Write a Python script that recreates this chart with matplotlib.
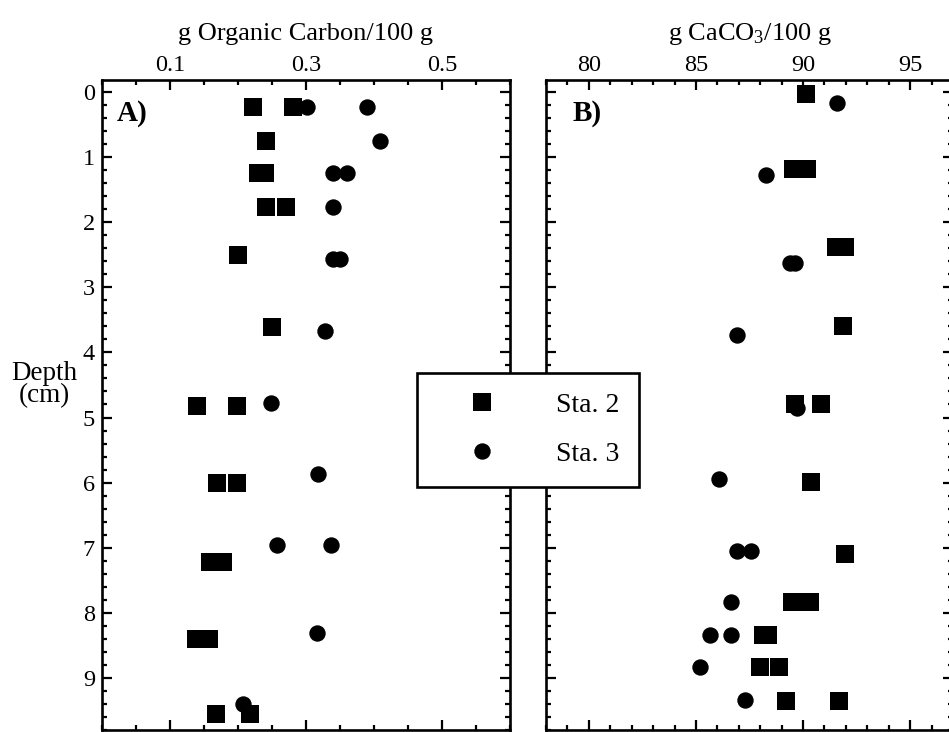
import matplotlib
matplotlib.use("Agg")
import matplotlib.pyplot as plt
from matplotlib.ticker import FixedLocator, MultipleLocator

plt.rcParams['font.family'] = ['Liberation Serif', 'DejaVu Serif']
plt.rcParams['mathtext.fontset'] = 'custom'
plt.rcParams['mathtext.rm'] = 'Liberation Serif'
plt.rcParams['mathtext.it'] = 'Liberation Serif:italic'
plt.rcParams['mathtext.bf'] = 'Liberation Serif:bold'

# ---------------- data ----------------
# Panel A: organic carbon (g / 100 g) vs depth (cm)
a_sta2_oc = [0.222, 0.281, 0.241, 0.230, 0.239, 0.241, 0.270, 0.2005, 0.2495,
             0.139, 0.199, 0.169, 0.199, 0.159, 0.1775, 0.138, 0.157, 0.167, 0.217]
a_sta2_depth = [0.235, 0.235, 0.748, 1.249, 1.249, 1.762, 1.762, 2.504, 3.615,
                4.818, 4.818, 6.011, 6.011, 7.215, 7.215, 8.397, 8.397, 9.555, 9.555]
a_sta3_oc = [0.301, 0.389, 0.409, 0.340, 0.360, 0.339, 0.339, 0.350, 0.328,
             0.249, 0.317, 0.258, 0.337, 0.316, 0.207]
a_sta3_depth = [0.235, 0.235, 0.748, 1.249, 1.249, 1.762, 2.565, 2.565, 3.666,
                4.77, 5.868, 6.963, 6.963, 8.305, 9.40]

# Panel B: CaCO3 (g / 100 g) vs depth (cm)
b_sta2_caco3 = [90.14, 89.53, 90.20, 91.53, 91.95, 91.86, 89.61, 90.83, 90.36,
                91.98, 89.48, 90.31, 88.12, 88.36, 87.99, 88.88, 89.22, 91.69]
b_sta2_depth = [0.031, 1.178, 1.178, 2.386, 2.386, 3.589, 4.80, 4.80, 5.99,
                7.09, 7.83, 7.83, 8.34, 8.34, 8.83, 8.83, 9.35, 9.35]
b_sta3_caco3 = [91.58, 88.28, 89.41, 89.63, 86.92, 89.70, 86.09, 86.91, 87.59,
                86.64, 85.66, 86.64, 85.19, 87.31]
b_sta3_depth = [0.174, 1.275, 2.632, 2.632, 3.733, 4.85, 5.945, 7.045, 7.045,
                7.84, 8.34, 8.34, 8.828, 9.34]

station_labels = ['Sta. 2', 'Sta. 3']
xlabel_a = 'g Organic Carbon/100 g'
xlabel_b = r'g CaCO$_\mathrm{3}$/100 g'
ylabel = 'Depth\n(cm)'

# ---------------- figure ----------------
W, H = 949, 732
fig = plt.figure(figsize=(W / 100, H / 100), dpi=100)

axA = fig.add_axes([102 / W, 1 - 730 / H, 408 / W, 650 / H])
axB = fig.add_axes([546 / W, 1 - 730 / H, 407 / W, 650 / H])

sq_kw = dict(ls='none', marker='s', ms=12.3, color='black', mew=0)
ci_kw = dict(ls='none', marker='o', ms=11.8, color='black', mew=0)

h2, = axA.plot(a_sta2_oc, a_sta2_depth, **sq_kw)
h3, = axA.plot(a_sta3_oc, a_sta3_depth, **ci_kw)
axB.plot(b_sta2_caco3, b_sta2_depth, **sq_kw)
axB.plot(b_sta3_caco3, b_sta3_depth, **ci_kw)

ylim = (9.80, -0.184)
for ax in (axA, axB):
    ax.set_ylim(*ylim)
    ax.yaxis.set_major_locator(MultipleLocator(1))
    ax.yaxis.set_minor_locator(MultipleLocator(0.2))
    ax.xaxis.tick_top()
    ax.xaxis.set_label_position('top')
    ax.tick_params(which='both', direction='in', top=True, bottom=True,
                   left=True, right=True, labelbottom=False, labeltop=True,
                   width=1.6, labelsize=17.5)
    ax.tick_params(axis='x', pad=3)
    ax.tick_params(axis='y', pad=5)
    ax.tick_params(which='major', length=7)
    ax.tick_params(which='minor', length=3.5)
    for s in ax.spines.values():
        s.set_linewidth(1.9)

axA.set_xlim(0, 0.6)
axA.xaxis.set_major_locator(FixedLocator([0.1, 0.3, 0.5]))
axA.xaxis.set_minor_locator(MultipleLocator(0.05))
axA.set_xticklabels(['0.1', '0.3', '0.5'])
axA.set_yticks(range(10))
axA.set_yticklabels([str(i) for i in range(10)])

axB.set_xlim(78, 97)
axB.xaxis.set_major_locator(FixedLocator([80, 85, 90, 95]))
axB.xaxis.set_minor_locator(MultipleLocator(1))
axB.tick_params(labelleft=False)

axA.set_xlabel(xlabel_a, fontsize=19, labelpad=11)
axB.set_xlabel(xlabel_b, fontsize=19, labelpad=11)

axA.set_ylabel(ylabel, rotation=0, fontsize=19.5, ha='center', va='center',
               linespacing=0.85)
axA.yaxis.set_label_coords(-0.142, 0.532)

axA.text(0.037, 0.937, 'A)', transform=axA.transAxes, fontsize=21,
         fontweight='bold', ha='left', va='baseline')
axB.text(0.066, 0.937, 'B)', transform=axB.transAxes, fontsize=21,
         fontweight='bold', ha='left', va='baseline')

leg = fig.legend(handles=[h2, h3], labels=station_labels, loc='upper left',
                 bbox_to_anchor=(417 / W, 1 - 373 / H),
                 bbox_transform=fig.transFigure, frameon=True, fancybox=False,
                 edgecolor='black', framealpha=1, borderpad=0.7,
                 handlelength=3.3, handletextpad=1.0, labelspacing=0.86,
                 borderaxespad=0, numpoints=1, prop={'size': 20})
leg.get_frame().set_linewidth(1.9)

fig.savefig('out.png', dpi=100)
